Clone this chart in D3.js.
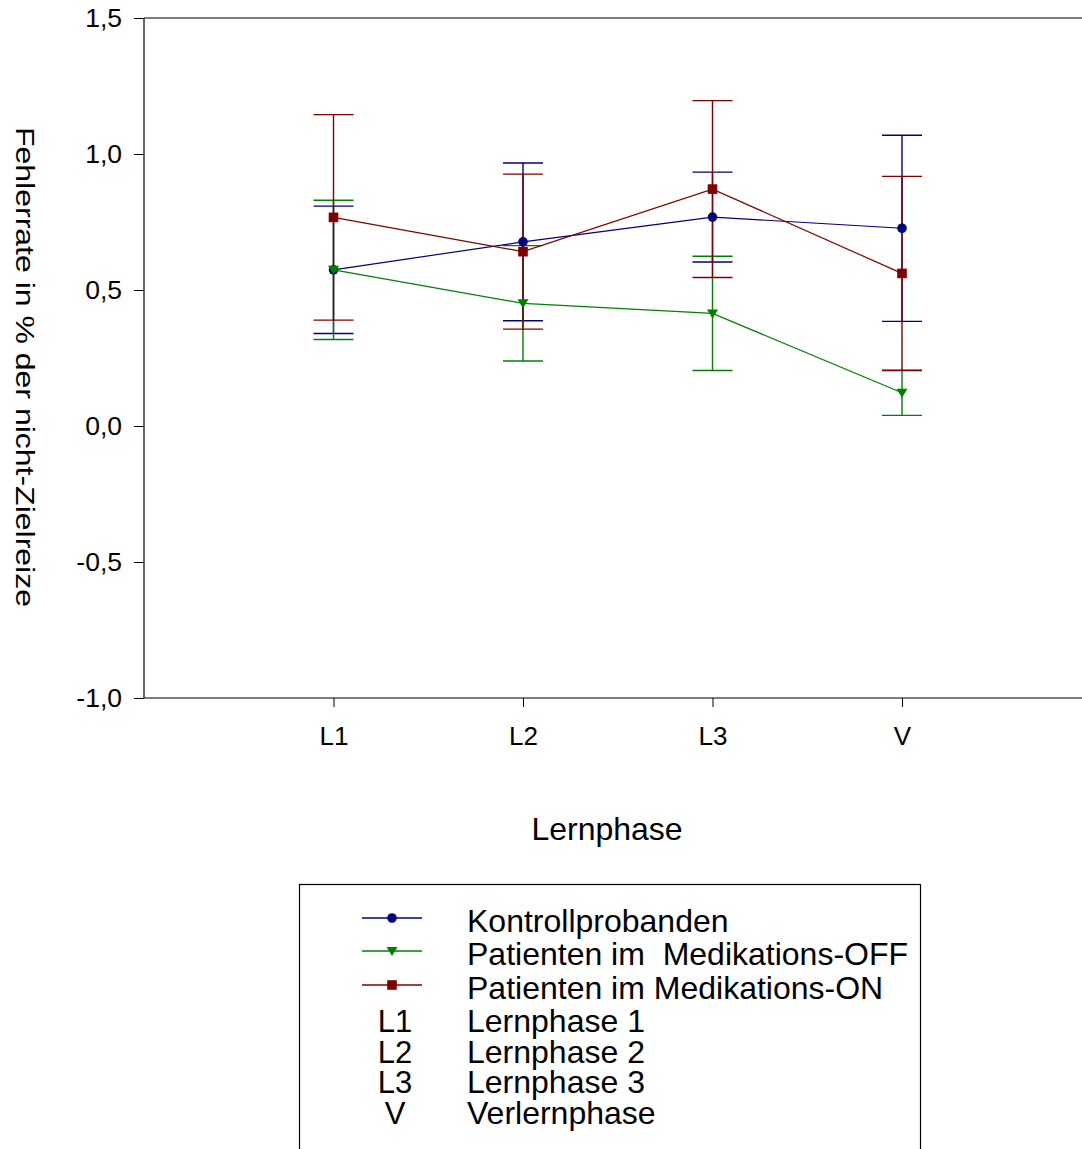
<!DOCTYPE html>
<html>
<head>
<meta charset="utf-8">
<script src="https://cdn.jsdelivr.net/npm/d3@7"></script>
<style>
  html, body { margin: 0; padding: 0; background: #fff; }
  svg { display: block; font-family: "Liberation Sans", Arial, sans-serif; }
</style>
</head>
<body>
<svg id="chart" width="1082" height="1149"></svg>
<script>
// ---- data ----
const categories = ["L1", "L2", "L3", "V"];
const yTicks = [-1.0, -0.5, 0.0, 0.5, 1.0, 1.5];

const seriesNames = ["Kontrollprobanden", "Patienten im  Medikations-OFF", "Patienten im Medikations-ON"];
const seriesColors = ["#000080", "#008000", "#800000"];
const seriesMarkers = ["circle", "triangle", "square"];

const kontrollMean = [0.574, 0.677, 0.768, 0.727];
const kontrollErr  = [0.234, 0.290, 0.165, 0.342];
const offMean = [0.574, 0.451, 0.414, 0.122];
const offErr  = [0.256, 0.212, 0.210, 0.083];
const onMean  = [0.767, 0.641, 0.871, 0.561];
const onErr   = [0.378, 0.285, 0.325, 0.357];

const legendCodes = ["L1", "L2", "L3", "V"];
const legendCodeNames = ["Lernphase 1", "Lernphase 2", "Lernphase 3", "Verlernphase"];

const xTitle = "Lernphase";
const yTitle = "Fehlerrate in % der nicht-Zielreize";

// ---- layout ----
const svg = d3.select("#chart");
const pLeft = 144, pTop = 18, pBottom = 698, pRight = 1091.5;

const x = d3.scaleLinear().domain([0, 5]).range([pLeft, pRight]);
const y = d3.scaleLinear().domain([-1.0, 1.5]).range([pBottom, pTop]);
const fmt = v => d3.format(".1f")(v).replace(".", ",").replace("\u2212", "-");

// top frame line (extends past image)
svg.append("line").attr("x1", pLeft).attr("x2", 1082).attr("y1", pTop).attr("y2", pTop)
  .attr("stroke", "#000").attr("stroke-width", 1.2);

// y axis
const yAxis = d3.axisLeft(y).tickValues(yTicks).tickFormat(fmt).tickSize(10).tickPadding(12);
const gy = svg.append("g").attr("transform", `translate(${pLeft},0)`).call(yAxis);
gy.select(".domain").attr("stroke", "#000").attr("stroke-width", 1.2).attr("d", `M0,${pTop}V${pBottom}`);
gy.selectAll("text").attr("font-size", 26.5).attr("fill", "#000").attr("font-family", "Liberation Sans, Arial, sans-serif");
gy.selectAll("line").attr("stroke", "#000");

// x axis
const xAxis = d3.axisBottom(x).tickValues([1, 2, 3, 4]).tickFormat((d, i) => categories[i]).tickSize(9).tickPadding(20);
const gx = svg.append("g").attr("transform", `translate(0,${pBottom})`).call(xAxis);
gx.select(".domain").attr("stroke", "#000").attr("stroke-width", 1.2).attr("d", `M${pLeft},0H1082`);
gx.selectAll("text").attr("font-size", 26).attr("fill", "#000").attr("font-family", "Liberation Sans, Arial, sans-serif");
gx.selectAll("line").attr("stroke", "#000");

// titles
svg.append("text").attr("x", 607).attr("y", 840).attr("text-anchor", "middle")
  .attr("font-size", 32).attr("fill", "#000").text(xTitle);
svg.append("text").attr("transform", "translate(16,367) rotate(90)").attr("text-anchor", "middle")
  .attr("font-size", 26).attr("fill", "#000")
  .attr("textLength", 480).attr("lengthAdjust", "spacingAndGlyphs").text(yTitle);

// markers
function drawMarker(g, type, cx, cy, color) {
  if (type === "circle") {
    g.append("circle").attr("cx", cx).attr("cy", cy).attr("r", 4.8).attr("fill", color);
  } else if (type === "square") {
    g.append("rect").attr("x", cx - 4.8).attr("y", cy - 4.8).attr("width", 9.6).attr("height", 9.6).attr("fill", color);
  } else {
    g.append("path").attr("d", `M${cx - 5.5},${cy - 4}L${cx + 5.5},${cy - 4}L${cx},${cy + 5}Z`).attr("fill", color);
  }
}

const series = [
  { mean: kontrollMean, err: kontrollErr },
  { mean: offMean, err: offErr },
  { mean: onMean, err: onErr }
];

const plot = svg.append("g");
const line = d3.line().x((d, i) => x(i + 1)).y(d => y(d));

// error bars (blue, green, red order: red on top)
series.forEach((s, k) => {
  const g = plot.append("g");
  s.mean.forEach((m, i) => {
    const cx = x(i + 1);
    const hi = y(m + s.err[i]), lo = y(m - s.err[i]);
    g.append("line").attr("x1", cx).attr("x2", cx).attr("y1", hi).attr("y2", lo)
      .attr("stroke", seriesColors[k]).attr("stroke-width", 1.4);
    [hi, lo].forEach(yy => g.append("line").attr("x1", cx - 20).attr("x2", cx + 20)
      .attr("y1", yy).attr("y2", yy).attr("stroke", seriesColors[k]).attr("stroke-width", 1.3));
  });
});
// lines + markers
series.forEach((s, k) => {
  const g = plot.append("g");
  g.append("path").datum(s.mean).attr("d", line).attr("fill", "none")
    .attr("stroke", seriesColors[k]).attr("stroke-width", 1.2);
  s.mean.forEach((m, i) => drawMarker(g, seriesMarkers[k], x(i + 1), y(m), seriesColors[k]));
});

// legend
const lg = svg.append("g");
lg.append("rect").attr("x", 299.5).attr("y", 884.5).attr("width", 621).attr("height", 300)
  .attr("fill", "none").attr("stroke", "#000").attr("stroke-width", 1.2);
const rowY = [918, 951, 985];
seriesNames.forEach((name, k) => {
  lg.append("line").attr("x1", 362).attr("x2", 422).attr("y1", rowY[k]).attr("y2", rowY[k])
    .attr("stroke", seriesColors[k]).attr("stroke-width", 1.3);
  drawMarker(lg, seriesMarkers[k], 392, rowY[k], seriesColors[k]);
  lg.append("text").attr("x", 467).attr("y", rowY[k] + 14).attr("font-size", 32).attr("fill", "#000")
    .style("white-space", "pre").text(name);
});
const codeY = [1032, 1063, 1093, 1124];
legendCodes.forEach((c, i) => {
  lg.append("text").attr("x", 395).attr("y", codeY[i]).attr("text-anchor", "middle")
    .attr("font-size", 31).attr("fill", "#000").text(c);
  lg.append("text").attr("x", 467).attr("y", codeY[i]).attr("font-size", 32).attr("fill", "#000").text(legendCodeNames[i]);
});
</script>
</body>
</html>
